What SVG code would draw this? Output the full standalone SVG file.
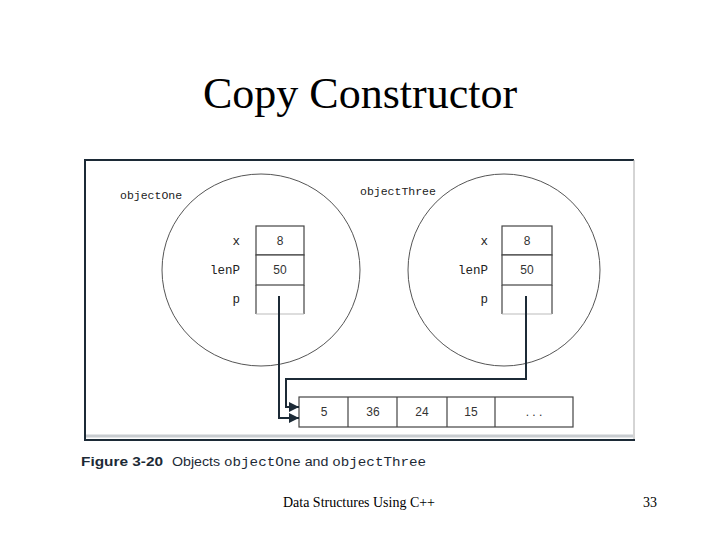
<svg xmlns="http://www.w3.org/2000/svg" width="720" height="540" viewBox="0 0 720 540">
<style>
.title{font-family:"Liberation Serif",serif;font-size:44px;fill:#000}
.foot{font-family:"Liberation Serif",serif;font-size:14px;fill:#000}
.mono{font-family:"Liberation Mono",monospace;font-size:11.5px;fill:#222}
.lbl{font-family:"Liberation Mono",monospace;font-size:12.5px;fill:#222;text-anchor:end}
.val{font-family:"Liberation Sans",sans-serif;font-size:12px;fill:#333;text-anchor:middle}
.cell{fill:#fff;stroke:#444;stroke-width:1.2}
.circ{fill:none;stroke:#555;stroke-width:1}
.wire{fill:none;stroke:#1c2a36;stroke-width:2}
.cap{font-family:"Liberation Sans",sans-serif;font-size:13.5px;fill:#1c2a36}
.capm{font-family:"Liberation Mono",monospace;font-size:13.5px;fill:#1c2a36}
</style>
<defs>
<marker id="arr" viewBox="0 0 10 10" refX="10" refY="5" markerWidth="6" markerHeight="5" orient="auto" markerUnits="strokeWidth">
<path d="M0,0 L10,5 L0,10 z" fill="#1c2a36"/>
</marker>
</defs>
<rect width="720" height="540" fill="#fff"/>
<text class="title" x="360" y="108" text-anchor="middle">Copy Constructor</text>
<g id="frame">
<line x1="84" y1="160" x2="634" y2="160" stroke="#1c2a36" stroke-width="2"/>
<line x1="85" y1="159" x2="85" y2="440" stroke="#1c2a36" stroke-width="2"/>
<line x1="634" y1="160" x2="634" y2="440" stroke="#aaa" stroke-width="1"/>
<line x1="84" y1="440" x2="635" y2="440" stroke="#1c2a36" stroke-width="2"/>
<line x1="86" y1="436" x2="633" y2="436" stroke="#c8ccd0" stroke-width="3"/>
</g>
<g id="objectOne">
<ellipse class="circ" cx="261" cy="270" rx="99" ry="96"/>
<text class="mono" x="120" y="199">objectOne</text>
<rect class="cell" x="256" y="226" width="48" height="29"/>
<rect class="cell" x="256" y="255" width="48" height="30"/>
<path d="M256,285 V314 M304,285 V314" stroke="#444" stroke-width="1.2"/>
<line x1="256" y1="314" x2="304" y2="314" stroke="#bbb" stroke-width="1"/>
<text class="lbl" x="240" y="245">x</text>
<text class="lbl" x="240" y="274">lenP</text>
<text class="lbl" x="240" y="303">p</text>
<text class="val" x="280" y="245">8</text>
<text class="val" x="280" y="274">50</text>
</g>
<g id="objectThree">
<ellipse class="circ" cx="504" cy="270" rx="96" ry="96"/>
<text class="mono" x="360" y="195">objectThree</text>
<rect class="cell" x="502" y="226" width="50" height="29"/>
<rect class="cell" x="502" y="255" width="50" height="30"/>
<path d="M502,285 V314 M552,285 V314" stroke="#444" stroke-width="1.2"/>
<line x1="502" y1="314" x2="552" y2="314" stroke="#bbb" stroke-width="1"/>
<text class="lbl" x="488" y="245">x</text>
<text class="lbl" x="488" y="274">lenP</text>
<text class="lbl" x="488" y="303">p</text>
<text class="val" x="527" y="245">8</text>
<text class="val" x="527" y="274">50</text>
</g>
<g id="array">
<rect x="299" y="397" width="274" height="30" fill="#fff" stroke="#444" stroke-width="1.2"/>
<path d="M348,397 V427 M397,397 V427 M447,397 V427 M495,397 V427" stroke="#444" stroke-width="1.2"/>
<text class="val" x="324" y="416">5</text>
<text class="val" x="373" y="416">36</text>
<text class="val" x="422" y="416">24</text>
<text class="val" x="471" y="416">15</text>
<text class="val" x="534" y="416">. . .</text>
</g>
<g id="connectors">
<path class="wire" d="M279,296 V418 H299" marker-end="url(#arr)"/>
<path class="wire" d="M526,296 V379 H286 V407 H299" marker-end="url(#arr)"/>
</g>
<g id="caption">
<text class="cap" x="81" y="466" font-weight="bold" textLength="82" lengthAdjust="spacingAndGlyphs">Figure 3-20</text>
<text x="172" y="466" textLength="254" lengthAdjust="spacingAndGlyphs"><tspan class="cap">Objects </tspan><tspan class="capm">objectOne</tspan><tspan class="cap"> and </tspan><tspan class="capm">objectThree</tspan></text>
</g>
<text class="foot" x="283" y="507" textLength="152" lengthAdjust="spacingAndGlyphs">Data Structures Using C++</text>
<text class="foot" x="643" y="507">33</text>
</svg>
